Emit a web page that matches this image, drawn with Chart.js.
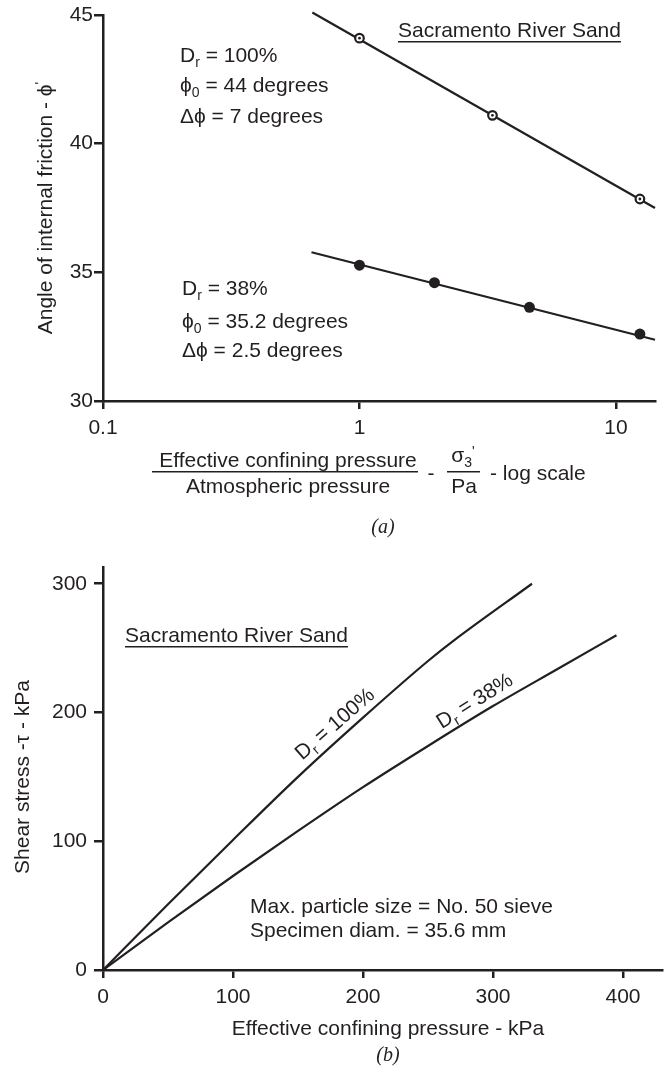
<!DOCTYPE html>
<html>
<head>
<meta charset="utf-8">
<script src="https://cdn.jsdelivr.net/npm/chart.js@4.4.0/dist/chart.umd.min.js"></script>
<style>
  body { margin: 0; background: #fff; }
  canvas { position: absolute; left: 0; }
  #chartA { top: 0; }
  #chartB { top: 540px; }
</style>
</head>
<body>
<canvas id="chartA" width="668" height="540"></canvas>
<canvas id="chartB" width="668" height="529"></canvas>
<script>
const fam = "'Liberation Sans', Arial, Helvetica, sans-serif"
const ink = '#231f20'

// (a) friction angle against sigma3'/Pa, log scale
const pressTicks = [0.1, 1, 10]
const dense100X = [1, 3.3, 12.4]
const dense100Y = [44.1, 41.1, 37.85]
const loose38X = [1, 1.96, 4.6, 12.4]
const loose38Y = [35.28, 34.6, 33.64, 32.6]
const fit100X = [0.655, 14.2]
const fit100Y = [45.1, 37.5]
const fit38X = [0.65, 14.2]
const fit38Y = [35.78, 32.38]

// (b) shear stress against confining pressure (kPa)
const sigma100 = [0, 50, 100, 150, 200, 250, 270, 330]
const tau100 = [0, 51, 101, 150, 196, 240, 256, 300]
const sigma38 = [0, 50, 100, 150, 200, 250, 300, 350, 395]
const tau38 = [0, 37, 73, 108, 142, 174, 205, 234, 260]

const pts = (xs, ys) => xs.map((x, i) => ({x: x, y: ys[i]}))

Chart.defaults.font.family = fam
Chart.defaults.color = ink

function rich(c, parts, x, y, size, align) {
  const fonts = parts.map(p => (p[1] ? Math.round(size * 0.68) : size) + 'px ' + fam)
  const widths = parts.map((p, i) => { c.font = fonts[i]; return c.measureText(p[0]).width })
  const total = widths.reduce((a, b) => a + b, 0)
  let cx = align === 'center' ? x - total / 2 : x
  c.textAlign = 'left'
  c.textBaseline = 'alphabetic'
  parts.forEach((p, i) => {
    c.font = fonts[i]
    const dy = p[1] === 'sub' ? size * 0.25 : p[1] === 'sup' ? -size * 0.3 : 0
    c.fillText(p[0], cx, y + dy)
    cx += widths[i]
  })
  return total
}

function underlined(c, text, x, y, size) {
  const w = rich(c, [[text]], x, y, size)
  c.fillRect(x, y + 4, w, 1.5)
}

function rotated(c, parts, x, y, deg, size) {
  c.save()
  c.translate(x, y)
  c.rotate(deg * Math.PI / 180)
  rich(c, parts, 0, size * 0.36, size, 'center')
  c.restore()
}

const notesA = {
  id: 'notesA',
  afterDraw(chart) {
    const c = chart.ctx
    c.save()
    c.fillStyle = ink
    rich(c, [['D'], ['r', 'sub'], [' = 100%']], 180, 62, 21)
    rich(c, [['ϕ'], ['0', 'sub'], [' = 44 degrees']], 180, 92, 21)
    rich(c, [['Δϕ = 7 degrees']], 180, 123, 21)
    rich(c, [['D'], ['r', 'sub'], [' = 38%']], 182, 295, 21)
    rich(c, [['ϕ'], ['0', 'sub'], [' = 35.2 degrees']], 182, 328, 21)
    rich(c, [['Δϕ = 2.5 degrees']], 182, 357, 21)
    underlined(c, 'Sacramento River Sand', 398, 37, 21)

    rotated(c, [['Angle of internal friction - ϕ'], ["'", 'sup']], 44, 208, -90, 21)

    // x title as two fractions
    rich(c, [['Effective confining pressure']], 288, 467, 21, 'center')
    c.fillRect(152, 471, 266, 1.5)
    rich(c, [['Atmospheric pressure']], 288, 493, 21, 'center')
    rich(c, [['-']], 431, 480, 21, 'center')
    rich(c, [['σ'], ['3', 'sub'], ["'", 'sup']], 463, 462, 21, 'center')
    c.fillRect(447, 471, 33, 1.5)
    rich(c, [['Pa']], 464, 493, 21, 'center')
    rich(c, [['- log scale']], 490, 480, 21)

    c.font = 'italic 20px "Liberation Serif", "Times New Roman", serif'
    c.textAlign = 'center'
    c.fillText('(a)', 383, 533)
    c.restore()
  }
}

const notesB = {
  id: 'notesB',
  afterDraw(chart) {
    const c = chart.ctx
    c.save()
    c.fillStyle = ink
    underlined(c, 'Sacramento River Sand', 125, 102, 21)
    rich(c, [['Max. particle size = No. 50 sieve']], 250, 373, 21)
    rich(c, [['Specimen diam. = 35.6 mm']], 250, 397, 21)
    rotated(c, [['D'], ['r', 'sub'], [' = 100%']], 334, 183, -41, 21)
    rotated(c, [['D'], ['r', 'sub'], [' = 38%']], 474, 160, -32, 21)
    rotated(c, [['Shear stress -τ - kPa']], 21, 237, -90, 21)
    rich(c, [['Effective confining pressure - kPa']], 388, 495, 21, 'center')
    c.font = 'italic 20px "Liberation Serif", "Times New Roman", serif'
    c.textAlign = 'center'
    c.fillText('(b)', 388, 521)
    c.restore()
  }
}

const tickFont = {size: 21}

new Chart(document.getElementById('chartA'), {
  type: 'scatter',
  data: {
    datasets: [
      {data: pts(loose38X, loose38Y), pointRadius: 5.5, pointBackgroundColor: ink, pointBorderWidth: 0},
      {data: pts(dense100X, dense100Y), pointRadius: 1.4, pointBackgroundColor: ink, pointBorderWidth: 0},
      {data: pts(dense100X, dense100Y), pointRadius: 4.3, pointBackgroundColor: '#fff', pointBorderColor: ink, pointBorderWidth: 2.2},
      {data: pts(fit100X, fit100Y), showLine: true, borderColor: ink, borderWidth: 2.2, pointRadius: 0, clip: false},
      {data: pts(fit38X, fit38Y), showLine: true, borderColor: ink, borderWidth: 2.2, pointRadius: 0, clip: false}
    ]
  },
  options: {
    responsive: false,
    animation: false,
    layout: {padding: {top: 15, right: 13, left: 0, bottom: 0}},
    plugins: {legend: {display: false}, tooltip: {enabled: false}},
    scales: {
      x: {
        type: 'logarithmic', min: 0.1, max: 14.2,
        afterBuildTicks: s => { s.ticks = pressTicks.map(v => ({value: v})) },
        afterFit: s => { s.height = 139 },
        ticks: {font: tickFont, color: ink, padding: 7, maxRotation: 0, autoSkip: false, callback: v => String(v)},
        grid: {drawOnChartArea: false, tickLength: 8, color: ink, lineWidth: 2.5},
        border: {color: ink, width: 2.5}
      },
      y: {
        min: 30, max: 45,
        afterFit: s => { s.width = 103 },
        ticks: {stepSize: 5, font: tickFont, color: ink, padding: 1},
        grid: {drawOnChartArea: false, tickLength: 9, color: ink, lineWidth: 2.5},
        border: {color: ink, width: 2.5}
      }
    }
  },
  plugins: [notesA]
})

new Chart(document.getElementById('chartB'), {
  type: 'scatter',
  data: {
    datasets: [
      {data: pts(sigma100, tau100), showLine: true, cubicInterpolationMode: 'monotone', borderColor: ink, borderWidth: 2.2, pointRadius: 0},
      {data: pts(sigma38, tau38), showLine: true, cubicInterpolationMode: 'monotone', borderColor: ink, borderWidth: 2.2, pointRadius: 0}
    ]
  },
  options: {
    responsive: false,
    animation: false,
    layout: {padding: {top: 27, right: 6, left: 0, bottom: 0}},
    plugins: {legend: {display: false}, tooltip: {enabled: false}},
    scales: {
      x: {
        min: 0, max: 430,
        afterFit: s => { s.height = 99 },
        ticks: {stepSize: 100, includeBounds: false, font: tickFont, color: ink, padding: 7, maxRotation: 0},
        grid: {drawOnChartArea: false, tickLength: 8, color: ink, lineWidth: 2.5},
        border: {color: ink, width: 2.5}
      },
      y: {
        min: 0, max: 313,
        afterFit: s => { s.width = 103 },
        ticks: {stepSize: 100, includeBounds: false, font: tickFont, color: ink, padding: 7},
        grid: {drawOnChartArea: false, tickLength: 9, color: ink, lineWidth: 2.5},
        border: {color: ink, width: 2.5}
      }
    }
  },
  plugins: [notesB]
})
</script>
</body>
</html>
